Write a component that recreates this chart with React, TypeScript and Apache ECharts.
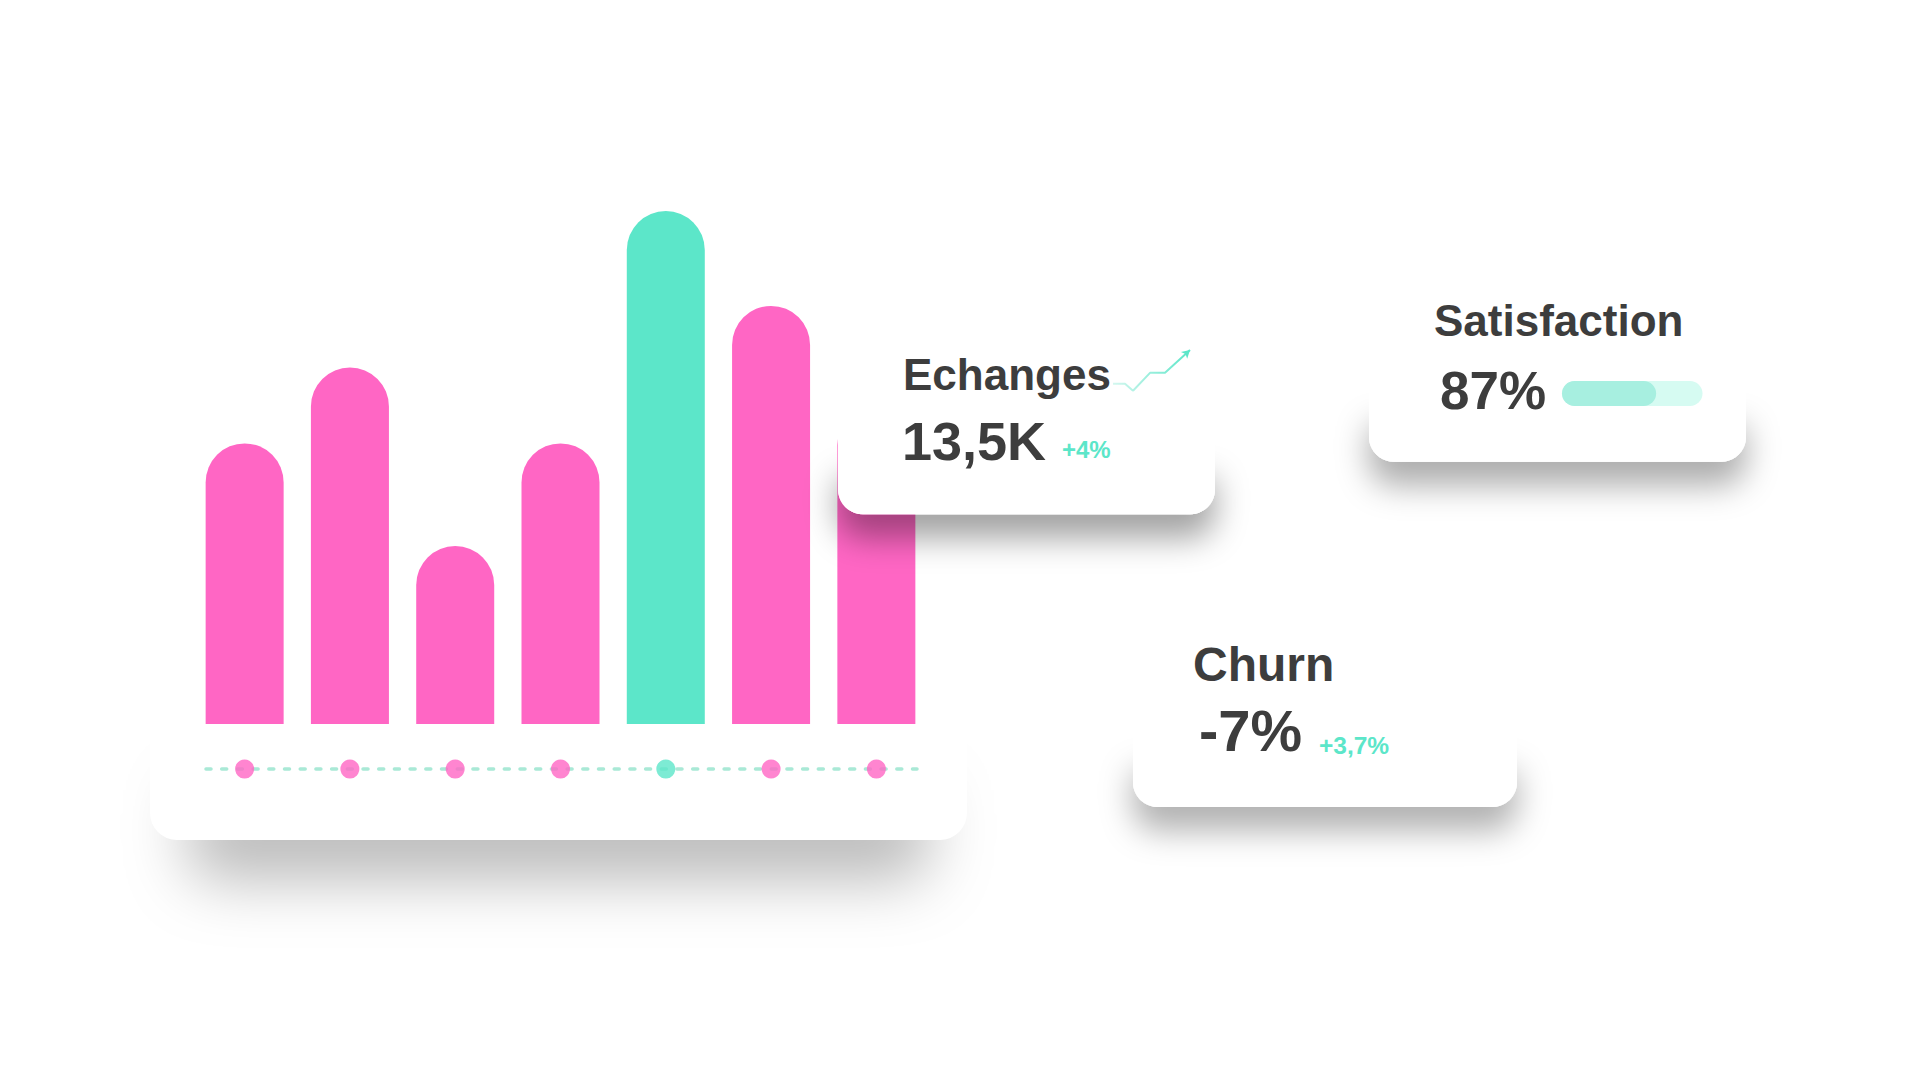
import React, { useEffect, useRef } from "react";
import * as echarts from "echarts";

// ---- data ----
const categories = ["A", "B", "C", "D", "E", "F", "G"];
const barValues = [54.7, 69.5, 34.7, 54.7, 100, 81.5, 62];
const highlightIndex = 4;
const dotValues = [0, 0, 0, 0, 0, 0, 0];
const sparkX = [0, 12, 20, 37, 52, 77];
const sparkY = [7, 7, 0, 18, 18, 41];
const satisfactionFill = [67];

const cardTitles = ["Echanges", "Satisfaction", "Churn"];
const cardValues = ["13,5K", "87%", "-7%"];
const cardDeltas = ["+4%", "", "+3,7%"];

const PINK = "#ff66c4";
const TEAL = "#5ce6c9";
const DARK = "#3d3d3d";
const FONT = "Liberation Sans";

// white card, with a soft shadow cast only from its lower part.
// The caster polygon has rounded bottom corners and a zero-area spike downward
// so that the SVG filter region is tall enough for the blur.
function card(
  x: number, y: number, w: number, h: number, r: number, z: number,
  blur: number, off: number, alpha: number, casterH: number, inset: number, ext: number
) {
  const x0 = x + inset;
  const x1 = x + w - inset;
  const y0 = y + h - casterH;
  const y1 = y + h;
  const xm = (x0 + x1) / 2;
  const pts: number[][] = [[x0, y0], [x1, y0]];
  const steps = 10;
  for (let k = 0; k <= steps; k++) {
    const t = (k / steps) * (Math.PI / 2);
    pts.push([x1 - r + r * Math.cos(t), y1 - r + r * Math.sin(t)]);
  }
  pts.push([xm, y1], [xm, y1 + ext], [xm, y1]);
  for (let k = 0; k <= steps; k++) {
    const t = Math.PI / 2 + (k / steps) * (Math.PI / 2);
    pts.push([x0 + r + r * Math.cos(t), y1 - r + r * Math.sin(t)]);
  }
  return [
    {
      type: "polygon",
      z,
      shape: { points: pts },
      style: {
        fill: "#ffffff",
        shadowBlur: blur,
        shadowOffsetY: off,
        shadowColor: `rgba(0,0,0,${alpha})`,
      },
      silent: true,
    },
    {
      type: "rect",
      z: z + 1,
      shape: { x, y, width: w, height: h, r },
      style: { fill: "#ffffff" },
      silent: true,
    },
  ];
}

function txt(text: string, x: number, baseline: number, size: number, color: string, z: number) {
  return {
    type: "text",
    z,
    x,
    y: baseline - 0.3465 * size,
    style: {
      text,
      fill: color,
      fontSize: size,
      fontWeight: "bold",
      fontFamily: FONT,
      align: "left",
      verticalAlign: "middle",
    },
    silent: true,
  };
}

export default function App() {
  const ref = useRef<HTMLDivElement>(null);

  useEffect(() => {
    document.body.style.margin = "0";
    if (!ref.current) return;
    const chart = echarts.init(ref.current, undefined, { renderer: "svg", width: 1920, height: 1080 });

    const option: any = {
      animation: false,
      backgroundColor: "#ffffff",
      grid: [
        { left: 192, width: 737, top: 211, bottom: 356 },
        { left: 206, width: 711, top: 769, height: 20 },
        { left: 1113, width: 77, top: 350, height: 40.7 },
        { left: 1562, width: 140.5, top: 381, height: 25 },
      ],
      xAxis: [
        { type: "category", gridIndex: 0, data: categories, show: false },
        {
          type: "value",
          gridIndex: 1,
          z: 3,
          min: -0.3666,
          max: 6.3856,
          position: "top",
          axisLine: {
            show: true,
            onZero: false,
            lineStyle: { color: "#a9e9d6", width: 3.5, type: [5, 10.7] },
          },
          axisTick: { show: false },
          axisLabel: { show: false },
          splitLine: { show: false },
        },
        { type: "value", gridIndex: 2, min: 0, max: 77, show: false },
        { type: "value", gridIndex: 3, min: 0, max: 100, show: false },
      ],
      yAxis: [
        { type: "value", gridIndex: 0, min: 0, max: 100, show: false },
        { type: "value", gridIndex: 1, min: 0, max: 1, inverse: true, show: false },
        { type: "value", gridIndex: 2, min: 0, max: 41, show: false },
        { type: "category", gridIndex: 3, data: ["s"], show: false },
      ],
      series: [
        {
          type: "bar",
          xAxisIndex: 0,
          yAxisIndex: 0,
          z: 2,
          barWidth: 78,
          data: barValues.map((v, i) => ({
            value: v,
            itemStyle: { color: i === highlightIndex ? TEAL : PINK, borderRadius: [39, 39, 0, 0] },
          })),
          silent: true,
        },
        {
          type: "scatter",
          xAxisIndex: 1,
          yAxisIndex: 1,
          z: 4,
          symbolSize: 19,
          data: dotValues.map((v, i) => ({
            value: [i, v],
            itemStyle: { color: i === highlightIndex ? TEAL : PINK },
          })),
          silent: true,
        },
        {
          type: "line",
          xAxisIndex: 2,
          yAxisIndex: 2,
          z: 20,
          symbol: "none",
          lineStyle: {
            width: 2,
            color: new echarts.graphic.LinearGradient(0, 0, 1, 0, [
              { offset: 0, color: "#d4f7ef" },
              { offset: 1, color: TEAL },
            ]),
          },
          data: sparkX.map((x, i) =>
            i === sparkX.length - 1
              ? { value: [x, sparkY[i]], symbol: "arrow", symbolSize: [7, 8], symbolRotate: -48, itemStyle: { color: TEAL } }
              : { value: [x, sparkY[i]] }
          ),
          silent: true,
        },
        {
          type: "bar",
          xAxisIndex: 3,
          yAxisIndex: 3,
          z: 20,
          barWidth: 25,
          showBackground: true,
          backgroundStyle: { color: "#d6fbf2", borderRadius: 12.5 },
          itemStyle: { color: "#a7efe0", borderRadius: 12.5 },
          data: satisfactionFill,
          silent: true,
        },
      ],
      graphic: [
        ...card(150, 110, 817, 730, 27, 0, 62, 40, 0.27, 90, 38, 300),
        ...card(838, 285, 377, 229.3, 25, 5, 32, 24, 0.36, 60, 0, 150),
        ...card(1369, 232, 377, 229.7, 25, 5, 32, 24, 0.32, 60, 0, 150),
        ...card(1133, 580, 384, 227, 25, 5, 32, 24, 0.3, 60, 0, 150),
        txt(cardTitles[0], 903, 390, 44, DARK, 10),
        txt(cardValues[0], 902, 459.3, 54, DARK, 10),
        txt(cardDeltas[0], 1062, 458.3, 24, TEAL, 10),
        txt(cardTitles[1], 1434, 336, 44, DARK, 10),
        txt(cardValues[1], 1440, 409, 53, DARK, 10),
        txt(cardTitles[2], 1193, 681, 48, DARK, 10),
        txt(cardValues[2], 1199, 750.7, 58, DARK, 10),
        txt(cardDeltas[2], 1319, 754, 24.5, TEAL, 10),
      ],
    };

    chart.setOption(option);
    return () => chart.dispose();
  }, []);

  return <div ref={ref} style={{ position: "fixed", left: 0, top: 0, width: 1920, height: 1080 }} />;
}
